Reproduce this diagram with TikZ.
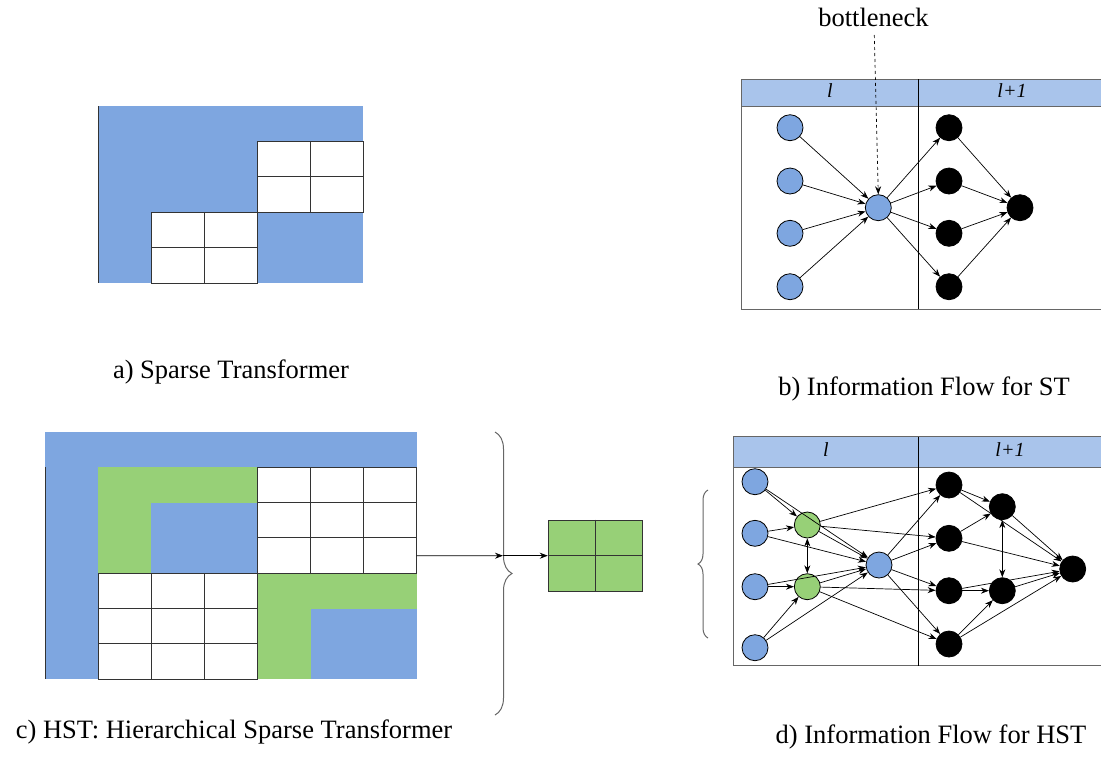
\documentclass[tikz,border=0pt]{standalone}
\usepackage{fontspec}
\setmainfont{Liberation Serif}
\usetikzlibrary{arrows.meta,decorations.pathreplacing}
\definecolor{cellblue}{HTML}{7EA6E0}
\definecolor{cellgreen}{HTML}{97D077}
\definecolor{headblue}{HTML}{A9C4EB}
\definecolor{framegray}{HTML}{666666}
\tikzset{
  cellw/.style={fill=white, draw=black!80, line width=1pt},
  edgeline/.style={draw=black!80, line width=1pt},
  frame/.style={draw=framegray, line width=1pt},
  divider/.style={draw=black, line width=1pt},
  unit/.style={circle, draw=black, line width=0.8pt, minimum size=26pt, inner sep=0pt},
  bnode/.style={unit, fill=cellblue},
  gnode/.style={unit, fill=cellgreen},
  knode/.style={unit, fill=black},
  arr/.style={draw=black, line width=0.7pt, -{Stealth[length=8pt, width=6pt]}},
  dbl/.style={draw=black, line width=0.7pt, {Stealth[length=8pt, width=6pt]}-{Stealth[length=8pt, width=6pt]}},
  dasharr/.style={arr, dashed},
  bracel/.style={draw=framegray, line width=1pt, decorate},
  pool/.style={fill=cellgreen, draw=black!80, line width=1pt, minimum width=94.5pt, minimum height=71pt, inner sep=0pt},
  caption/.style={font=\fontsize{26.5}{30}\selectfont, anchor=base},
  head/.style={font=\fontsize{20}{24}\selectfont\itshape}
}

\begin{document}
\begin{tikzpicture}[x=1pt, y=-1pt]
  \useasboundingbox (0,0) rectangle (1101,756);

  % a) sparse transformer
  \begin{scope}[shift={(98,106)}, x=53pt, y=-35.4pt]
    \fill[cellblue] (0,0) rectangle (5,5);
    \foreach \i in {3,4} \foreach \j in {1,2} \draw[cellw] (\i,\j) rectangle ++(1,1);
    \foreach \i in {1,2} \foreach \j in {3,4} \draw[cellw] (\i,\j) rectangle ++(1,1);
    \draw[edgeline] (0,0) -- (0,5);
  \end{scope}
  \node[caption] (capA) at (231,378) {a) Sparse Transformer};

  % b) information flow for ST
  \fill[headblue] (741.7,79.3) rectangle (1103,106.7);
  \draw[frame] (1103,79.3) -- (741.7,79.3) -- (741.7,309.3) -- (1103,309.3);
  \draw[frame] (741.7,106.7) -- (1103,106.7);
  \draw[divider] (918.3,79.3) -- (918.3,309.3);
  \node[head] (hbl) at (830,91) {l};
  \node[head] (hbr) at (1012,91) {l+1};

  \node[bnode] (b-in1) at (790,127.7) {};
  \node[bnode] (b-in2) at (790,181) {};
  \node[bnode] (b-in3) at (790,233.3) {};
  \node[bnode] (b-in4) at (790,286.7) {};
  \node[bnode] (b-mid) at (878.3,207.7) {};
  \node[knode] (b-out1) at (949,127.7) {};
  \node[knode] (b-out2) at (949,181) {};
  \node[knode] (b-out3) at (949,233.3) {};
  \node[knode] (b-out4) at (949,286.7) {};
  \node[knode] (b-end) at (1020,207.7) {};
  \foreach \i in {1,...,4} {
    \draw[arr] (b-in\i) -- (b-mid);
    \draw[arr] (b-mid) -- (b-out\i);
    \draw[arr] (b-out\i) -- (b-end);
  }
  \node[caption] (bneck) at (873.5,26) {bottleneck};
  \coordinate (bneck-foot) at (874.3,35);
  \draw[dasharr] (bneck-foot) -- (b-mid.north);
  \node[caption] (capB) at (924,395) {b) Information Flow for ST};

  % c) hierarchical sparse transformer
  \begin{scope}[shift={(45,432)}, x=53.1pt, y=-35.33pt]
    \fill[cellblue] (0,0) rectangle (7,7);
    \fill[cellgreen] (1,1) rectangle (4,4);
    \fill[cellblue] (2,2) rectangle (4,4);
    \fill[cellgreen] (4,4) rectangle (7,7);
    \fill[cellblue] (5,5) rectangle (7,7);
    \foreach \i in {4,5,6} \foreach \j in {1,2,3} \draw[cellw] (\i,\j) rectangle ++(1,1);
    \foreach \i in {1,2,3} \foreach \j in {4,5,6} \draw[cellw] (\i,\j) rectangle ++(1,1);
    \draw[edgeline] (0,1) -- (0,7);
    \coordinate (c-out) at (7,3.5);
  \end{scope}
  \draw[bracel, decoration={brace, amplitude=17pt}] (495,432) -- (495,715);
  \coordinate (brace-in) at (503,555.7);
  \node[pool] (pool) at (595.5,555.7) {};
  \draw[edgeline] (pool.north) -- (pool.south);
  \draw[edgeline] (pool.west) -- (pool.east);
  \draw[arr] (c-out) -- (brace-in);
  \draw[arr] (brace-in) -- (pool.west);
  \node[caption] (capC) at (234,738) {c) HST: Hierarchical Sparse Transformer};

  % d) information flow for HST
  \fill[headblue] (733.3,436.7) rectangle (1103,467.7);
  \draw[frame] (1103,436.7) -- (733.3,436.7) -- (733.3,665.7) -- (1103,665.7);
  \draw[frame] (733.3,467.7) -- (1103,467.7);
  \draw[divider] (918.3,436.7) -- (918.3,665.7);
  \node[head] (hdl) at (826,450) {l};
  \node[head] (hdr) at (1010,450) {l+1};
  \draw[bracel, decoration={brace, amplitude=10pt}] (708,638) -- (708,490);

  \node[bnode] (d-in1) at (755,481.7) {};
  \node[bnode] (d-in2) at (755,533.3) {};
  \node[bnode] (d-in3) at (755,586.7) {};
  \node[bnode] (d-in4) at (755,647.7) {};
  \node[gnode] (d-g1) at (807.3,525) {};
  \node[gnode] (d-g2) at (807.3,586.7) {};
  \node[bnode] (d-mid) at (879,565) {};
  \node[knode] (d-h1) at (949,485) {};
  \node[knode] (d-h2) at (949,538.3) {};
  \node[knode] (d-h3) at (949,590.7) {};
  \node[knode] (d-h4) at (949,644) {};
  \node[knode] (d-k1) at (1002.3,506.7) {};
  \node[knode] (d-k2) at (1002.3,590.7) {};
  \node[knode] (d-end) at (1072.7,569) {};

  \foreach \i in {1,2} \draw[arr] (d-in\i) -- (d-g1);
  \foreach \i in {3,4} \draw[arr] (d-in\i) -- (d-g2);
  \foreach \i in {1,...,4} {
    \draw[arr] (d-in\i) -- (d-mid);
    \draw[arr] (d-mid) -- (d-h\i);
    \draw[arr] (d-h\i) -- (d-end);
  }
  \draw[dbl] (d-g1) -- (d-g2);
  \draw[arr] (d-g1) -- (d-mid);
  \draw[arr] (d-g2) -- (d-mid);
  \draw[arr] (d-g1) -- (d-h1);
  \draw[arr] (d-g1) -- (d-h2);
  \draw[arr] (d-g2) -- (d-h3);
  \draw[arr] (d-g2) -- (d-h4);
  \foreach \i in {1,2} \draw[arr] (d-h\i) -- (d-k1);
  \foreach \i in {3,4} \draw[arr] (d-h\i) -- (d-k2);
  \draw[dbl] (d-k1) -- (d-k2);
  \draw[arr] (d-k1) -- (d-end);
  \draw[arr] (d-k2) -- (d-end);
  \node[caption] (capD) at (931,743) {d) Information Flow for HST};
\end{tikzpicture}
\end{document}
